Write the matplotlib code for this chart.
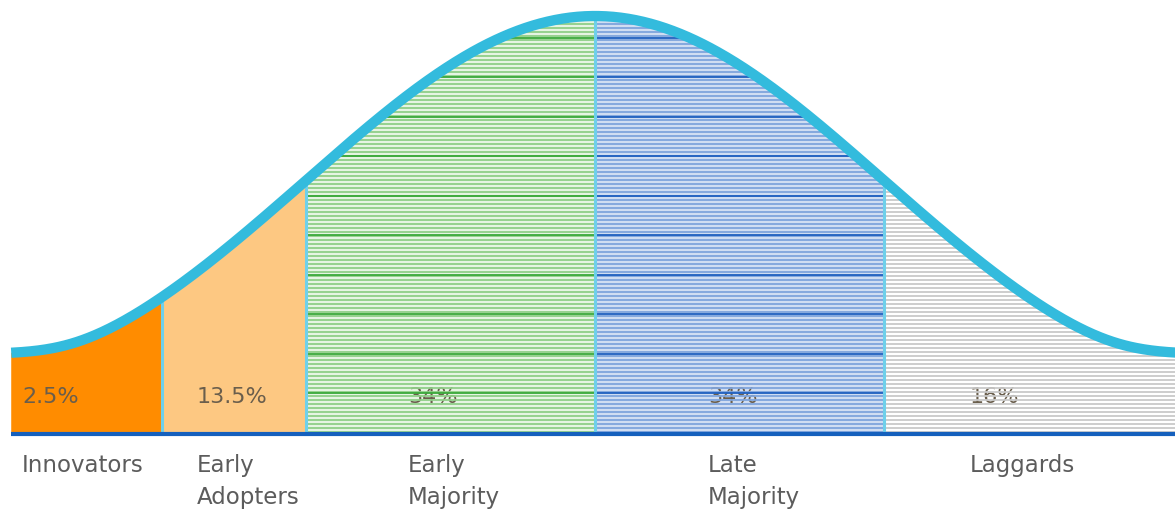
import numpy as np
import matplotlib.pyplot as plt
from matplotlib.patches import Polygon

# adoption segments, left to right
segments = ["Innovators", "Early\nAdopters", "Early\nMajority", "Late\nMajority", "Laggards"]
shares = ["2.5%", "13.5%", "34%", "34%", "16%"]
# segment edges, in standard deviations from the mean
edges = [-2.02, -1.5, -1.0, 0.0, 1.0, 2.1]

# look of each segment: background, stripe colour, heavy stripe colour
looks = [
    ("#ff8c00", None, None),
    ("#fdc882", None, None),
    ("#e6f4e3", "#8fcf88", "#3aa83a"),
    ("#d0ddf2", "#7fa4dc", "#1f5fbf"),
    ("#ffffff", "#c9c9c9", None),
]
label_x = [22, 197, 408, 708, 970]   # left edge of texts, px
cyan = "#33bbdd"
font = "DejaVu Sans"

# canvas in pixels: mean at x=595 px, one sd = 289 px, baseline at y=434 px
W, H = 1175, 512
mu_px, sd_px, base_px = 595, 289, 434
peak, floor = 418, 80


def curve(z):
    g = peak * np.exp(-z ** 2 / 2)
    return (g ** 6 + floor ** 6) ** (1 / 6)


def px(x):
    return (x - mu_px) / sd_px


fig = plt.figure(figsize=(W / 100, H / 100), dpi=100)
ax = fig.add_axes([0, 0, 1, 1])
ax.set_xlim(px(0), px(W))
ax.set_ylim(base_px - H, base_px)
ax.axis("off")

for i, (lo, hi) in enumerate(zip(edges[:-1], edges[1:])):
    z = np.linspace(lo, hi, 200)
    verts = np.column_stack([np.r_[lo, z, hi], np.r_[0, curve(z), 0]])
    bg, stripe, heavy = looks[i]
    patch = Polygon(verts, closed=True, facecolor=bg, edgecolor="none", zorder=1)
    ax.add_patch(patch)

    # percentage sits under the stripes, like the original
    ax.text(px(label_x[i]), 37, shares[i], fontsize=16, color="#6a5e4c",
            ha="left", va="center", family=font, zorder=2)

    if stripe:
        ys = np.arange(2, peak + 4, 4.0)
        ln = ax.hlines(ys, lo, hi, colors=stripe, linewidth=1.3, zorder=3)
        ln.set_clip_path(patch)
    if heavy:
        ys = np.arange(1.5, peak, 39.5)
        ln = ax.hlines(ys, lo, hi, colors=heavy, linewidth=1.3, zorder=4)
        ln.set_clip_path(patch)

    ax.text(px(label_x[i]), -20, segments[i], fontsize=16.5, color="#5c5c5c",
            ha="left", va="top", family=font, linespacing=1.5)

# separators between segments
for e in edges[1:-1]:
    ax.plot([e, e], [0, curve(np.array(e))], color="#6fd0ea", lw=2.2, zorder=5)

zz = np.linspace(edges[0], edges[-1], 800)
ax.plot(zz, curve(zz), color=cyan, lw=7.4, solid_capstyle="butt", zorder=6)
ax.plot([edges[0], edges[-1]], [0, 0], color="#1560bd", lw=3, solid_capstyle="butt", zorder=7)

fig.savefig("out.png", dpi=100)
